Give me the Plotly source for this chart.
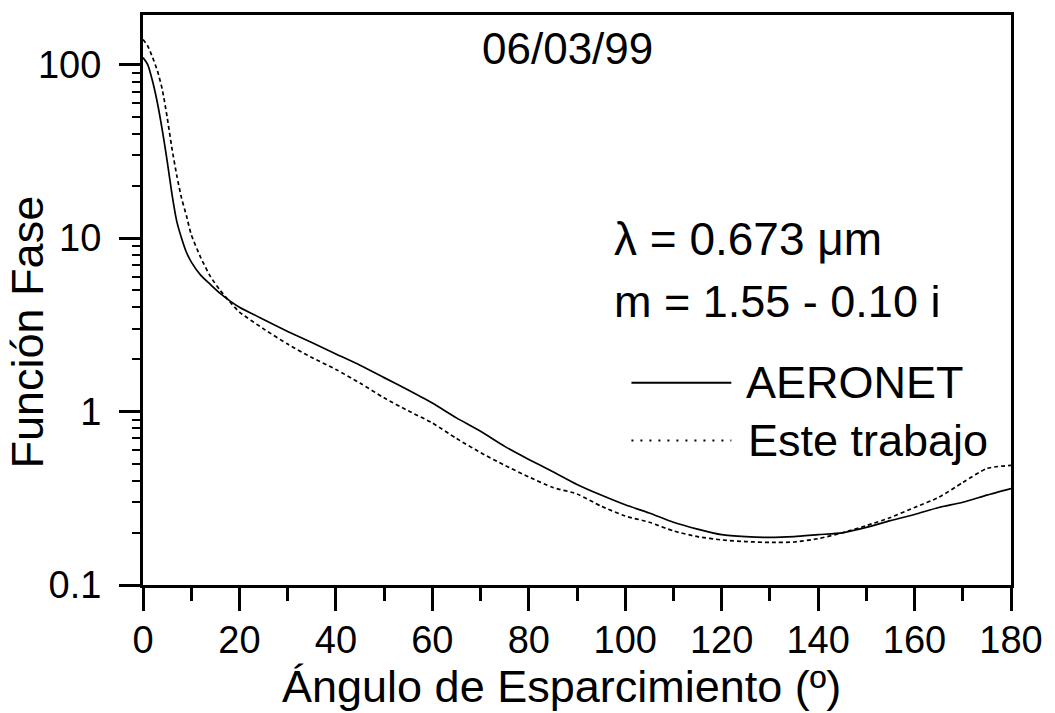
import plotly.graph_objects as go

# Scattering angle (degrees)
angles = [0, 1, 2, 3, 4, 5, 6, 7, 8, 9, 10, 12, 14, 16, 18, 20, 25, 30, 35, 40,
          45, 50, 55, 60, 65, 70, 75, 80, 85, 90, 95, 100, 105, 110, 115, 120,
          125, 130, 135, 140, 145, 150, 155, 160, 165, 170, 175, 180]

# Phase function, AERONET retrieval
aeronet = [110, 100, 80, 60, 42, 28, 18, 12.5, 10, 8.3, 7.3, 6.1, 5.4, 4.8, 4.35,
           4.0, 3.4, 2.9, 2.5, 2.15, 1.85, 1.57, 1.33, 1.12, 0.92, 0.77, 0.63,
           0.53, 0.45, 0.38, 0.33, 0.29, 0.26, 0.23, 0.21, 0.195, 0.19, 0.188,
           0.19, 0.195, 0.20, 0.215, 0.235, 0.255, 0.28, 0.30, 0.33, 0.36]

# Phase function, this work
este_trabajo = [140, 128, 110, 92, 72, 50, 33, 23, 17, 13.5, 10.5, 7.7, 6.0, 5.0,
                4.3, 3.75, 3.0, 2.45, 2.05, 1.75, 1.46, 1.2, 1.01, 0.86, 0.70,
                0.58, 0.49, 0.42, 0.365, 0.335, 0.285, 0.25, 0.23, 0.205, 0.19,
                0.182, 0.178, 0.176, 0.177, 0.185, 0.20, 0.22, 0.245, 0.28, 0.32,
                0.39, 0.47, 0.49]

x_ticks = [0, 20, 40, 60, 80, 100, 120, 140, 160, 180]
x_minor = [10, 30, 50, 70, 90, 110, 130, 150, 170]
y_ticks = [0.1, 1, 10, 100]
y_ticktext = ["0.1", "1", "10", "100"]
y_minor = [m * d for d in (0.1, 1, 10) for m in range(2, 10)]

FONT = "Liberation Sans, Arial, sans-serif"

fig = go.Figure()
fig.add_trace(go.Scatter(x=angles, y=aeronet, mode="lines", name="AERONET",
                         line=dict(color="black", width=1.7, shape="spline", smoothing=0.6)))
fig.add_trace(go.Scatter(x=angles, y=este_trabajo, mode="lines", name="Este trabajo",
                         line=dict(color="black", width=1.7, dash="4px,3px",
                                   shape="spline", smoothing=0.6)))

axis_common = dict(showline=True, linecolor="black", linewidth=3, mirror=True,
                   showgrid=False, zeroline=False, ticks="outside",
                   tickcolor="black", tickwidth=3,
                   tickfont=dict(family=FONT, size=38, color="black"))

fig.update_xaxes(range=[0, 180], tickvals=x_ticks, ticklen=23, ticklabelstandoff=-4,
                 minor=dict(tickvals=x_minor, ticks="outside", ticklen=13,
                            tickwidth=3, tickcolor="black"),
                 **axis_common)
fig.update_yaxes(type="log", range=[-1, 2.287], tickvals=y_ticks,
                 ticktext=y_ticktext, ticklen=21, ticklabelstandoff=10,
                 minor=dict(tickvals=y_minor, ticks="outside", ticklen=8,
                            tickwidth=2, tickcolor="black"),
                 **axis_common)

txt = dict(family=FONT, size=45, color="black")
annotations = [
    dict(text="06/03/99", x=0.489, y=0.942, font=dict(family=FONT, size=44, color="black"),
         xanchor="center", yanchor="middle"),
    dict(text="λ = 0.673 μm", x=0.540, y=0.607, font=dict(family=FONT, size=46, color="black"),
         xanchor="left", yanchor="middle"),
    dict(text="m = 1.55 - 0.10 i", x=0.540, y=0.498, font=txt, xanchor="left", yanchor="middle"),
    dict(text="AERONET", x=0.6927, y=0.355, font=txt, xanchor="left", yanchor="middle"),
    dict(text="Este trabajo", x=0.695, y=0.2535, font=txt, xanchor="left", yanchor="middle"),
    dict(text="Función Fase", x=-0.133, y=0.444, textangle=-90, font=txt,
         xanchor="center", yanchor="middle"),
    dict(text="Ángulo de Esparcimiento (º)", x=0.482, y=-0.178, font=txt,
         xanchor="center", yanchor="middle"),
]
for a in annotations:
    a.update(xref="paper", yref="paper", showarrow=False)

shapes = [
    dict(type="line", xref="paper", yref="paper", x0=0.5627, x1=0.6778,
         y0=0.355, y1=0.355, line=dict(color="black", width=2)),
    dict(type="line", xref="paper", yref="paper", x0=0.5627, x1=0.6778,
         y0=0.2535, y1=0.2535, line=dict(color="black", width=2, dash="2px,7px")),
]

fig.update_layout(width=1055, height=713, showlegend=False,
                  margin=dict(l=143, r=43, t=13, b=128),
                  paper_bgcolor="white", plot_bgcolor="white",
                  annotations=annotations, shapes=shapes)

fig.write_html("out.html")
